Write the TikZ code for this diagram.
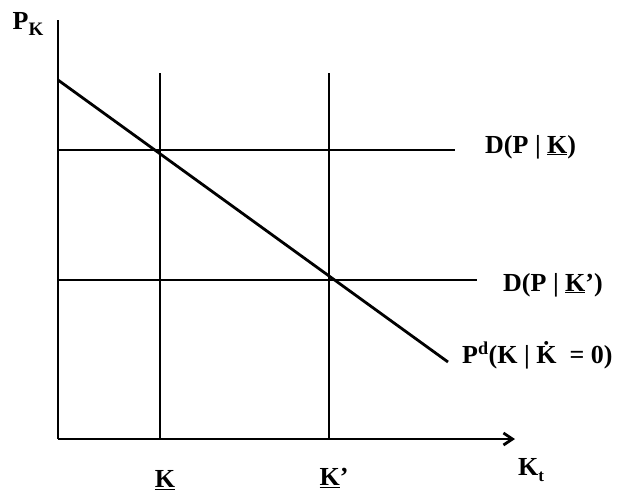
\documentclass[tikz,border=0pt]{standalone}
\usepackage{fontspec}
\setmainfont{Liberation Serif}
\usepackage{tikz}
\usetikzlibrary{arrows.meta,positioning,calc}

\tikzset{
    curve/.style={line width=2.8pt},
    lbl/.style={font=\fontsize{26}{31}\selectfont\bfseries, inner sep=1pt}
}

\begin{document}
\begin{tikzpicture}[x=1pt,y=-1pt]
            \useasboundingbox (0,0) rectangle (636,498);
            % Axes
            \coordinate (O) at (58,439);
            \coordinate (ytop) at (58,20);
            \coordinate (xend) at (515,439);
            \draw[curve] (O) -- (ytop);
            \draw[curve,-{Straight Barb[length=9pt,width=12pt]}] (O) -- (xend);

            % Capital stock levels
            \coordinate (kl) at (160,439);
            \coordinate (klt) at (160,73);
            \coordinate (kh) at (329,439);
            \coordinate (kht) at (329,73);
            \draw[curve] (kl) -- (klt);
            \draw[curve] (kh) -- (kht);

            % Demand lines
            \coordinate (d1a) at (58,150);
            \coordinate (d1b) at (455,150);
            \coordinate (d2a) at (58,280);
            \coordinate (d2b) at (477,280);
            \draw[curve] (d1a) -- (d1b);
            \draw[curve] (d2a) -- (d2b);

            % Price curve
            \coordinate (pa) at (58,80);
            \coordinate (pb) at (448,362);
            \draw[curve] (pa) -- (pb);

            % Labels
            \node[lbl] (pk) at (28,24) {P\raisebox{-0.45ex}{\fontsize{19}{22}\selectfont K}};
            \node[lbl] (klab) at (165,480) {\underline{K}};
            \node[lbl] (khlab) at (334,478) {\underline{K}’};
            \node[lbl] (kt) at (531,470) {K\raisebox{-0.5ex}{\fontsize{17}{20}\selectfont t}};
            \node[lbl,anchor=west] (dk) at (484,147) {D(P | \underline{K})};
            \node[lbl,anchor=west] (dkp) at (502,285) {D(P | \underline{K}’)};
            \node[lbl,anchor=west] (pd) at (461,355) {P\textsuperscript{d}(K | \.K \ = 0)};
\end{tikzpicture}
\end{document}
